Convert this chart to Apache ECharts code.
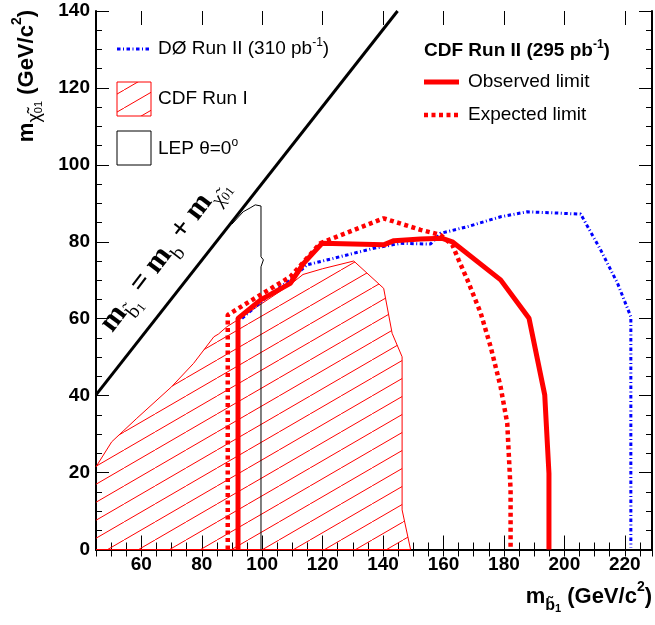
<!DOCTYPE html>
<html>
<head>
<meta charset="utf-8">
<script src="https://cdn.jsdelivr.net/npm/echarts@6/dist/echarts.min.js"></script>
<style>
html,body{margin:0;padding:0;background:#fff;}
#main{width:655px;height:625px;}
</style>
</head>
<body>
<div id="main"></div>
<script>
// axis ranges and tick labels
var xMin = 45, xMax = 229;
var yMin = 0, yMax = 140;
var xLabels = [60, 80, 100, 120, 140, 160, 180, 200, 220];
var yLabels = [0, 20, 40, 60, 80, 100, 120, 140];

// CDF Run II, observed limit
var obsX = [92, 92, 99.5, 109.3, 113.7, 119.8, 140.2, 143.6, 152.4, 159.6, 162.9, 178.9, 188.3, 193.5, 194.9, 194.9];
var obsY = [0, 60.1, 64.9, 69.2, 74.4, 79.6, 79.2, 80.3, 80.7, 80.9, 80.0, 70.1, 60.1, 40.2, 19.8, 0];

// CDF Run II, expected limit
var expX = [88.6, 88.6, 99.4, 109.3, 119.2, 140.2, 152.4, 159.0, 162.9, 165.0, 167.9, 172.3, 175.6, 178.9, 181.1, 182.2, 182.2];
var expY = [0, 61.0, 66.2, 70.9, 79.6, 86.1, 83.1, 81.8, 79.2, 75.3, 70.1, 61.5, 52.7, 42.3, 32.8, 15.5, 0];

// D0 Run II (310 pb-1)
var d0X = [93.3, 101.6, 109.3, 114.8, 122.6, 136.9, 145.8, 155.7, 159.0, 167.8, 178.9, 187.7, 205.4, 212.0, 217.6, 222.0, 222.0];
var d0Y = [60.1, 65.7, 70.1, 74.0, 75.5, 78.3, 79.6, 79.4, 82.2, 83.9, 86.5, 87.8, 87.2, 77.9, 69.2, 60.5, 0.5];

// CDF Run I excluded region (outline, left edge open)
var runIX = [45, 50.2, 58.5, 70, 77.3, 84, 85.5, 88.3, 92.5, 100, 109.5, 113.5, 120, 130.3, 140.2, 143, 146.3, 146.3, 149.1, 45];
var runIY = [21.5, 28, 34.1, 42.3, 48.4, 55.3, 56, 57.9, 60, 64, 69, 71.5, 73, 75, 67.9, 56.2, 50.1, 10.3, 0, 0];

// LEP theta=0 contour
var lepX = [90, 93.7, 96, 97.7, 99.6, 99.6, 100.4, 99.6, 99.6];
var lepY = [84.6, 87.8, 88.8, 89.6, 89.3, 76.1, 75.3, 73.5, 0];

// kinematic limit m(sbottom) = m(b) + m(chi)
var diagX = [45, 144.8];
var diagY = [40.2, 140];

function pairs(xs, ys) {
	var out = [];
	for (var i = 0; i < xs.length; i++) {
		out.push([xs[i], ys[i]]);
	}
	return out;
}

// red hatch pattern
var tile = document.createElement('canvas');
tile.width = 31;
tile.height = 18;
var ctx = tile.getContext('2d');
ctx.strokeStyle = '#ff0000';
ctx.lineWidth = 1;
ctx.beginPath();
ctx.moveTo(-1, 18 + 18 / 31);
ctx.lineTo(32, -18 / 31);
ctx.stroke();
var hatch = { image: tile, repeat: 'repeat' };

var RED = '#ff0000', BLUE = '#0000ff';
var font = 'Liberation Sans, Arial, sans-serif';
var serif = 'Liberation Serif, serif';

var myChart = echarts.init(document.getElementById('main'));

function xAxisMain(pos, showLabel) {
	return {
		type: 'value', gridIndex: 0, position: pos, min: xMin, max: xMax, interval: 5,
		axisLine: { lineStyle: { color: '#000', width: 2 } },
		axisTick: { inside: true, length: 7, lineStyle: { color: '#000', width: 1 } },
		axisLabel: { show: showLabel, customValues: xLabels, fontSize: 19, fontWeight: 'bold', color: '#000', margin: 6, fontFamily: font },
		splitLine: { show: false }
	};
}
function xAxisMajor(pos) {
	return {
		type: 'value', gridIndex: 1, position: pos, min: xMin, max: xMax,
		axisLine: { show: false },
		axisTick: { inside: true, length: 14, customValues: xLabels, lineStyle: { color: '#000', width: 1 } },
		axisLabel: { show: false },
		splitLine: { show: false }
	};
}
function yAxisMain(pos, showLabel) {
	return {
		type: 'value', gridIndex: 0, position: pos, min: yMin, max: yMax, interval: 20,
		axisLine: { lineStyle: { color: '#000', width: 2 } },
		axisTick: { inside: true, length: 13, lineStyle: { color: '#000', width: 1 } },
		minorTick: { show: true, splitNumber: 4, length: 6, lineStyle: { color: '#000', width: 1 } },
		axisLabel: { show: showLabel, customValues: yLabels, fontSize: 19, fontWeight: 'bold', color: '#000', margin: 6, fontFamily: font },
		splitLine: { show: false },
		minorSplitLine: { show: false }
	};
}

function tok(size, lh, va, bold, fam) {
	return { fontSize: size, lineHeight: lh, verticalAlign: va, fontWeight: bold ? 'bold' : 'normal', fontFamily: fam || font, fill: '#000' };
}

option = {
	animation: false,
	backgroundColor: '#fff',
	textStyle: { fontFamily: font },
	grid: [
		{ left: 96, top: 11, right: 3, bottom: 75.5 },
		{ left: 96, top: 11, right: 3, bottom: 75.5 }
	],
	xAxis: [xAxisMain('bottom', true), xAxisMain('top', false), xAxisMajor('bottom'), xAxisMajor('top')],
	yAxis: [yAxisMain('left', true), yAxisMain('right', false), { type: 'value', gridIndex: 1, min: yMin, max: yMax, show: false }],
	series: [
		{
			type: 'custom', name: 'CDF Run I', xAxisIndex: 0, yAxisIndex: 0, z: 2,
			data: [[runIX[0], runIY[0]]],
			renderItem: function(params, api) {
				var pts = [];
				for (var i = 0; i < runIX.length; i++) {
					pts.push(api.coord([runIX[i], runIY[i]]));
				}
				return {
					type: 'group',
					children: [
						{ type: 'polygon', shape: { points: pts }, style: { fill: hatch, stroke: null } },
						{ type: 'polyline', shape: { points: pts }, style: { fill: null, stroke: RED, lineWidth: 1 } }
					]
				};
			}
		},
		{
			type: 'line', name: 'LEP', data: pairs(lepX, lepY), showSymbol: false, z: 3,
			lineStyle: { color: '#000', width: 1 }
		},
		{
			type: 'line', name: 'kinematic', data: pairs(diagX, diagY), showSymbol: false, z: 3,
			lineStyle: { color: '#000', width: 3 }
		},
		{
			type: 'line', name: 'D0 Run II', data: pairs(d0X, d0Y), showSymbol: false, z: 4,
			lineStyle: { color: BLUE, width: 3, type: [3.5, 2.5, 1, 2.5] }
		},
		{
			type: 'line', name: 'Expected limit', data: pairs(expX, expY), showSymbol: false, z: 5,
			lineStyle: { color: RED, width: 4.5, type: [4, 3.5] }
		},
		{
			type: 'line', name: 'Observed limit', data: pairs(obsX, obsY), showSymbol: false, z: 6,
			lineStyle: { color: RED, width: 5 }
		}
	],
	graphic: [
		// left legend
		{ type: 'line', shape: { x1: 117, y1: 49, x2: 151, y2: 49 }, style: { stroke: BLUE, lineWidth: 3, lineDash: [3.5, 2.5, 1, 2.5] } },
		{ type: 'rect', shape: { x: 117, y: 82, width: 34, height: 34 }, style: { fill: hatch, stroke: RED, lineWidth: 1 } },
		{ type: 'rect', shape: { x: 117, y: 131, width: 34, height: 34 }, style: { fill: '#fff', stroke: '#000', lineWidth: 1 } },
		{ type: 'text', x: 158, y: 49, style: {
			text: '{t|DØ Run II (310 pb}{s|-1}{t|)}', align: 'left', verticalAlign: 'middle',
			rich: { t: tok(19, 24, 'middle', false), s: tok(12, 12, 'top', false) }
		} },
		{ type: 'text', x: 158, y: 99, style: { text: 'CDF Run I', fontSize: 19, fontFamily: font, fill: '#000', align: 'left', verticalAlign: 'middle' } },
		{ type: 'text', x: 158, y: 149, style: {
			text: '{t|LEP θ=0}{s|o}', align: 'left', verticalAlign: 'middle',
			rich: { t: tok(19, 24, 'middle', false), s: tok(12, 12, 'top', false) }
		} },
		// right legend
		{ type: 'text', x: 424, y: 51, style: {
			text: '{t|CDF Run II (295 pb}{s|-1}{t|)}', align: 'left', verticalAlign: 'middle',
			rich: { t: tok(19, 24, 'middle', true), s: tok(12, 12, 'top', true) }
		} },
		{ type: 'line', shape: { x1: 424, y1: 82, x2: 459, y2: 82 }, style: { stroke: RED, lineWidth: 5 } },
		{ type: 'text', x: 468, y: 82, style: { text: 'Observed limit', fontSize: 19, fontFamily: font, fill: '#000', align: 'left', verticalAlign: 'middle' } },
		{ type: 'line', shape: { x1: 424, y1: 115, x2: 459, y2: 115 }, style: { stroke: RED, lineWidth: 4.5, lineDash: [4, 3.5] } },
		{ type: 'text', x: 468, y: 115, style: { text: 'Expected limit', fontSize: 19, fontFamily: font, fill: '#000', align: 'left', verticalAlign: 'middle' } },
		// axis titles
		{ type: 'text', x: 652, y: 597, style: {
			text: '{m|m}{s|b̃}{ss|1}{m| (GeV/c}{p|2}{m|)}', align: 'right', verticalAlign: 'middle',
			rich: { m: tok(22, 34, 'middle', true), s: tok(16, 16, 'bottom', true), ss: tok(11, 6, 'bottom', true), p: tok(14, 22, 'top', true) }
		} },
		{ type: 'text', x: 27, y: 10, rotation: Math.PI / 2, style: {
			text: '{m|m}{s|χ̃}{sp|0}{ss|1}{m| (GeV/c}{p|2}{m|)}', align: 'right', verticalAlign: 'middle',
			rich: { m: tok(22, 34, 'middle', true), s: tok(18, 16, 'bottom', false), sp: tok(11, 30, 'bottom', false), ss: tok(11, 6, 'bottom', false), p: tok(14, 22, 'top', true) }
		} },
		// kinematic line label
		{ type: 'text', x: 163, y: 254, rotation: 0.92, style: {
			text: '{m|m}{s|b̃}{ss|1}{m| = m}{s|b}{m| + m}{s|χ̃}{sp|0}{ss|1}', align: 'center', verticalAlign: 'middle',
			rich: { m: tok(30, 40, 'middle', true, serif), s: tok(20, 20, 'bottom', false, serif), sp: tok(13, 44, 'bottom', false, serif), ss: tok(13, 8, 'bottom', false, serif) }
		} }
	]
};

myChart.setOption(option);
</script>
</body>
</html>
